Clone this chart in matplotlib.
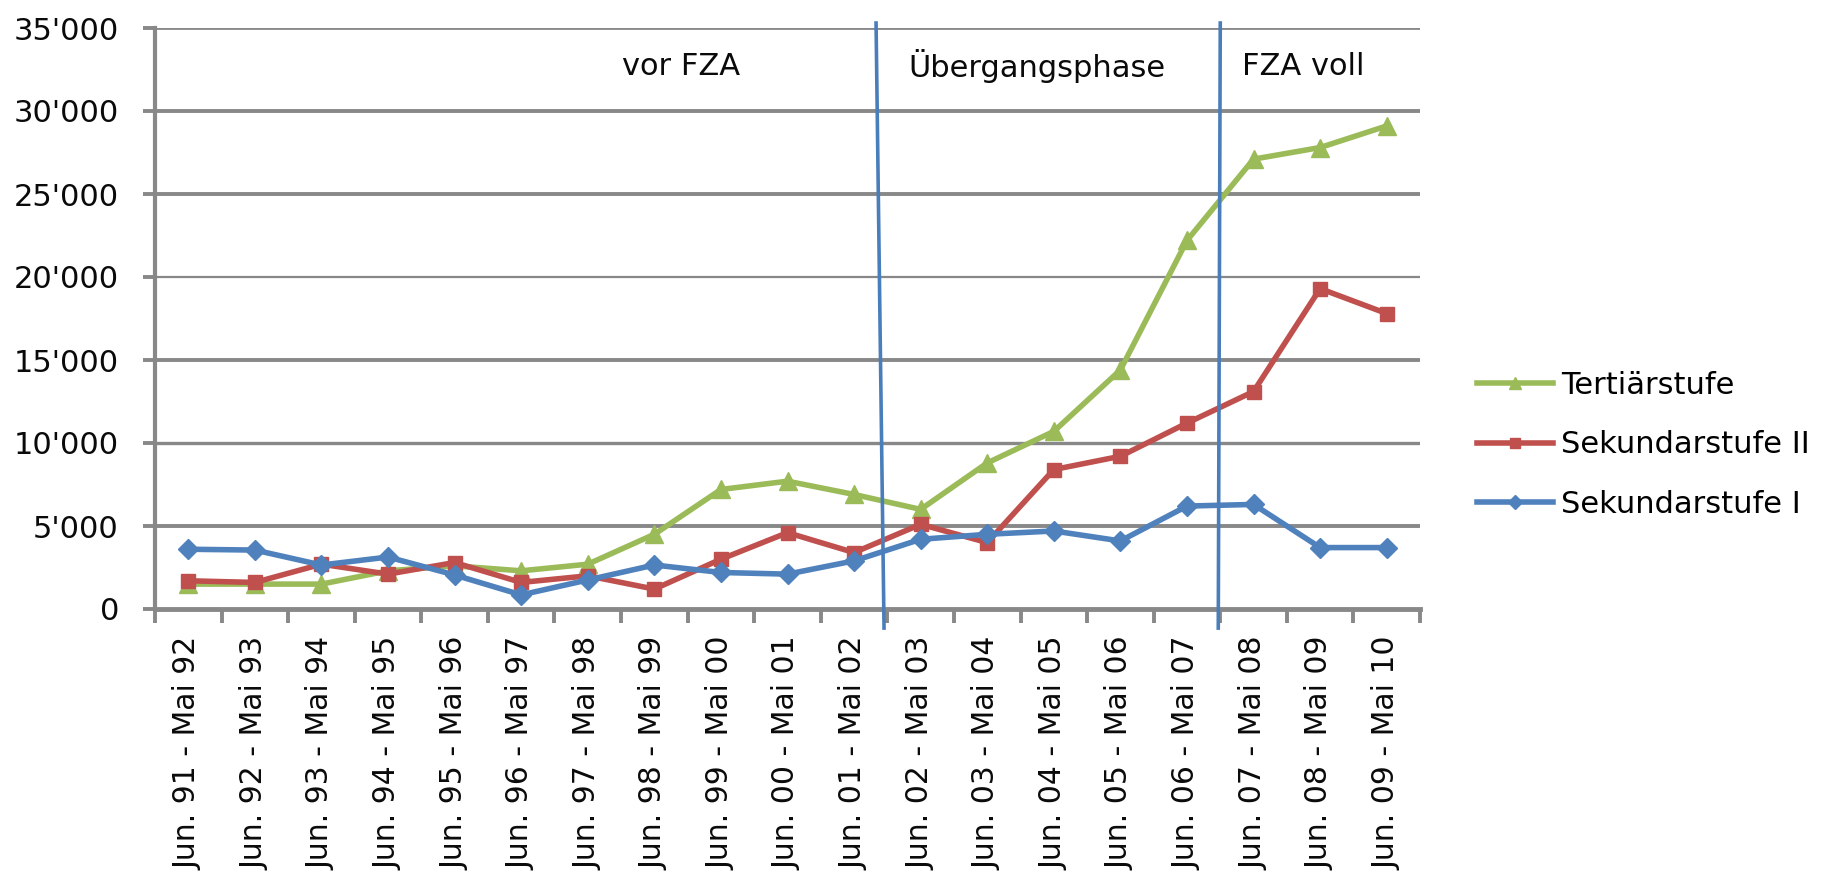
import matplotlib
matplotlib.use('Agg')
import matplotlib.pyplot as plt
import numpy as np
from matplotlib.ticker import FuncFormatter

plt.rcParams['font.family'] = ['DejaVu Sans']

# Zeitraeume (Jun. - Mai)
periods = ['Jun. 91 - Mai 92', 'Jun. 92 - Mai 93', 'Jun. 93 - Mai 94', 'Jun. 94 - Mai 95',
           'Jun. 95 - Mai 96', 'Jun. 96 - Mai 97', 'Jun. 97 - Mai 98', 'Jun. 98 - Mai 99',
           'Jun. 99 - Mai 00', 'Jun. 00 - Mai 01', 'Jun. 01 - Mai 02', 'Jun. 02 - Mai 03',
           'Jun. 03 - Mai 04', 'Jun. 04 - Mai 05', 'Jun. 05 - Mai 06', 'Jun. 06 - Mai 07',
           'Jun. 07 - Mai 08', 'Jun. 08 - Mai 09', 'Jun. 09 - Mai 10']

tertiaer = [1500, 1500, 1500, 2300, 2600, 2300, 2700, 4500, 7200, 7700,
            6900, 6000, 8800, 10700, 14400, 22200, 27100, 27800, 29100]
sek2 = [1700, 1600, 2700, 2100, 2800, 1600, 2000, 1200, 3000, 4600,
        3400, 5100, 4000, 8400, 9200, 11200, 13100, 19300, 17800]
sek1 = [3600, 3550, 2650, 3130, 2050, 850, 1750, 2650, 2200, 2100,
        2900, 4200, 4500, 4700, 4100, 6200, 6300, 3700, 3700]

# Phasen: erster Zeitraum jeder neuen Phase
phase_starts = ['Jun. 02 - Mai 03', 'Jun. 07 - Mai 08']
phase_labels = ['vor FZA', 'Übergangsphase', 'FZA voll']
phase_label_x = [7.4, 12.75, 16.75]

yticks = [0, 5000, 10000, 15000, 20000, 25000, 30000, 35000]
grid_widths = [0, 2.8, 2.4, 2.8, 1.6, 2.8, 2.8, 2.0]

grey = '#888888'
green = '#9bbb59'
red = '#c0504d'
blue = '#4f81bd'
txt = '#0a0a0a'

fig = plt.figure(figsize=(18.29, 8.84), dpi=100)
ax = fig.add_axes([155 / 1829, 1 - 609 / 884, (1420 - 155) / 1829, (609 - 28) / 884])

x = np.arange(len(periods))

for v, w in zip(yticks[1:], grid_widths[1:]):
    ax.axhline(v, color=grey, lw=w, zorder=1)

ax.plot(x, tertiaer, color=green, lw=4, marker='^', ms=13, label='Tertiärstufe', zorder=3)
ax.plot(x, sek2, color=red, lw=4, marker='s', ms=10, label='Sekundarstufe II', zorder=4)
ax.plot(x, sek1, color=blue, lw=4, marker='D', ms=10, label='Sekundarstufe I', zorder=5)

# Phasengrenzen (die erste ist von Hand leicht schraeg gezogen)
tilt = [(-0.17, -0.05), (0.0, -0.03)]
for p, (dt, db) in zip(phase_starts, tilt):
    b = periods.index(p) - 0.5
    ax.plot([b + dt, b + db], [35300, -1150], color='#4a7ebb', lw=2.6,
            clip_on=False, zorder=6)

for lab, px in zip(phase_labels, phase_label_x):
    ax.text(px, 32700, lab, ha='center', va='center', fontsize=22, color=txt)

ax.set_xlim(-0.5, len(periods) - 0.5)
ax.set_ylim(0, 35000)
ax.set_yticks(yticks)
ax.yaxis.set_major_formatter(FuncFormatter(lambda v, pos: f'{int(v):,}'.replace(',', "'")))
ax.tick_params(axis='y', length=9, width=2.8, color=grey, pad=17, labelsize=22,
               labelcolor=txt)

ax.set_xticks(x)
ax.set_xticklabels(periods, rotation=90, fontsize=21.5, color=txt)
ax.set_xticks(np.arange(len(periods) + 1) - 0.5, minor=True)
ax.tick_params(axis='x', which='major', length=0, pad=20)
ax.tick_params(axis='x', which='minor', length=10, width=2.8, color=grey)

for s in ['top', 'right']:
    ax.spines[s].set_visible(False)
ax.spines['left'].set_color(grey)
ax.spines['left'].set_linewidth(3)
ax.spines['bottom'].set_color(grey)
ax.spines['bottom'].set_linewidth(3.5)

ax.legend(loc='center left', bbox_to_anchor=(1477 / 1829, 1 - 445 / 884),
          bbox_transform=fig.transFigure, frameon=False, fontsize=22,
          handlelength=2.5, handletextpad=0.25, labelspacing=1.0,
          borderpad=0, borderaxespad=0, markerscale=0.7)

fig.savefig('out.png', dpi=100, facecolor='white')
